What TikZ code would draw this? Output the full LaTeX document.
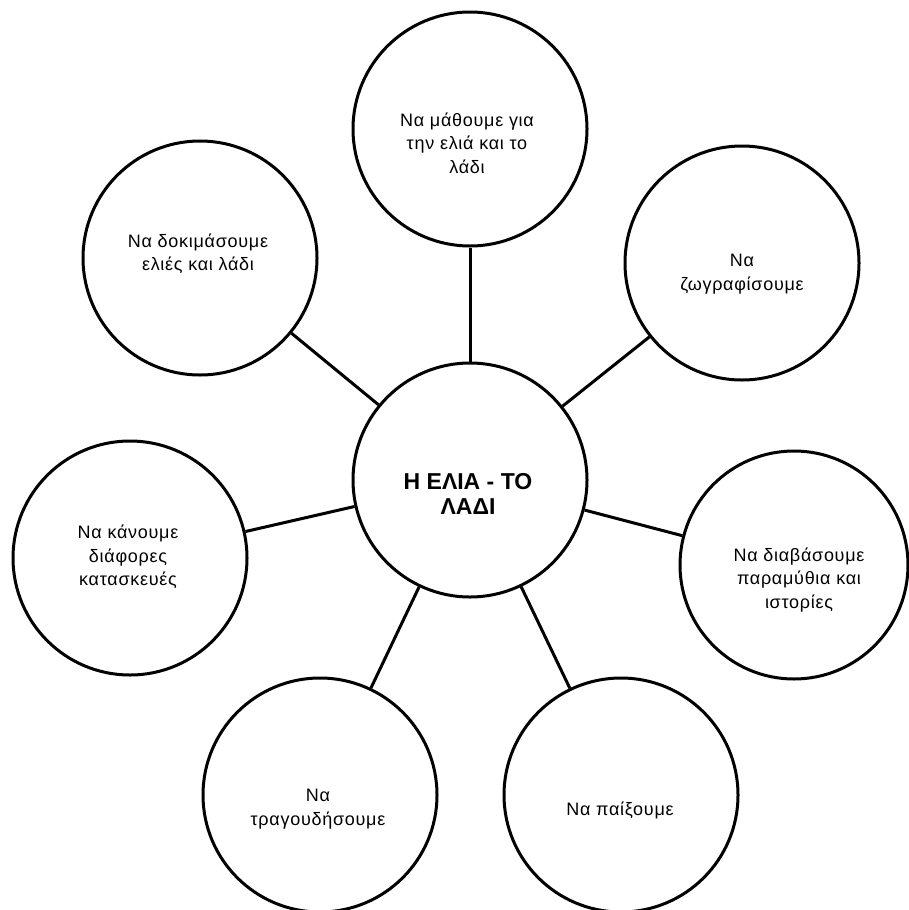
\documentclass[tikz,border=0pt]{standalone}
\usepackage{fontspec}
\setmainfont{Liberation Sans}
\newfontfamily\lblfont[LetterSpace=4]{Liberation Sans}
\begin{document}
\begin{tikzpicture}[x=1pt,y=-1pt,
  bubble/.style={circle,draw=black,line width=3pt,minimum size=234pt,inner sep=0pt,fill=white},
  link/.style={line width=3pt,draw=black},
  lbl/.style={align=center,font=\lblfont\fontsize{18}{23.5}\selectfont,inner sep=0pt},
  hub/.style={align=center,font=\bfseries\fontsize{23}{25}\selectfont,inner sep=0pt}]
\useasboundingbox[fill=white] (0,0) rectangle (908,910);
\node[bubble] (C) at (470,480) {};
\node[bubble] (T) at (470,129) {};
\node[bubble] (TL) at (200,258) {};
\node[bubble] (TR) at (742,263) {};
\node[bubble] (L) at (130,558) {};
\node[bubble,minimum size=228pt] (R) at (794,565) {};
\node[bubble] (BL) at (320,795) {};
\node[bubble] (BR) at (621,795) {};
\foreach \n in {T,TL,TR,L,R,BL,BR} \draw[link] (C) -- (\n);
\node[hub] (tC) at (468,494) {Η ΕΛΙΑ - ΤΟ\\ΛΑΔΙ};
\node[lbl] (tT) at (467,143) {Να μάθουμε για\\την ελιά και το\\λάδι};
\node[lbl] (tTL) at (198,254) {Να δοκιμάσουμε\\ελιές και λάδι};
\node[lbl] (tTR) at (742,274) {Να\\ζωγραφίσουμε};
\node[lbl] (tL) at (128,557) {Να κάνουμε\\διάφορες\\κατασκευές};
\node[lbl] (tR) at (799,580) {Να διαβάσουμε\\παραμύθια και\\ιστορίες};
\node[lbl] (tBL) at (318,809) {Να\\τραγουδήσουμε};
\node[lbl] (tBR) at (620,810) {Να παίξουμε};
\end{tikzpicture}
\end{document}
